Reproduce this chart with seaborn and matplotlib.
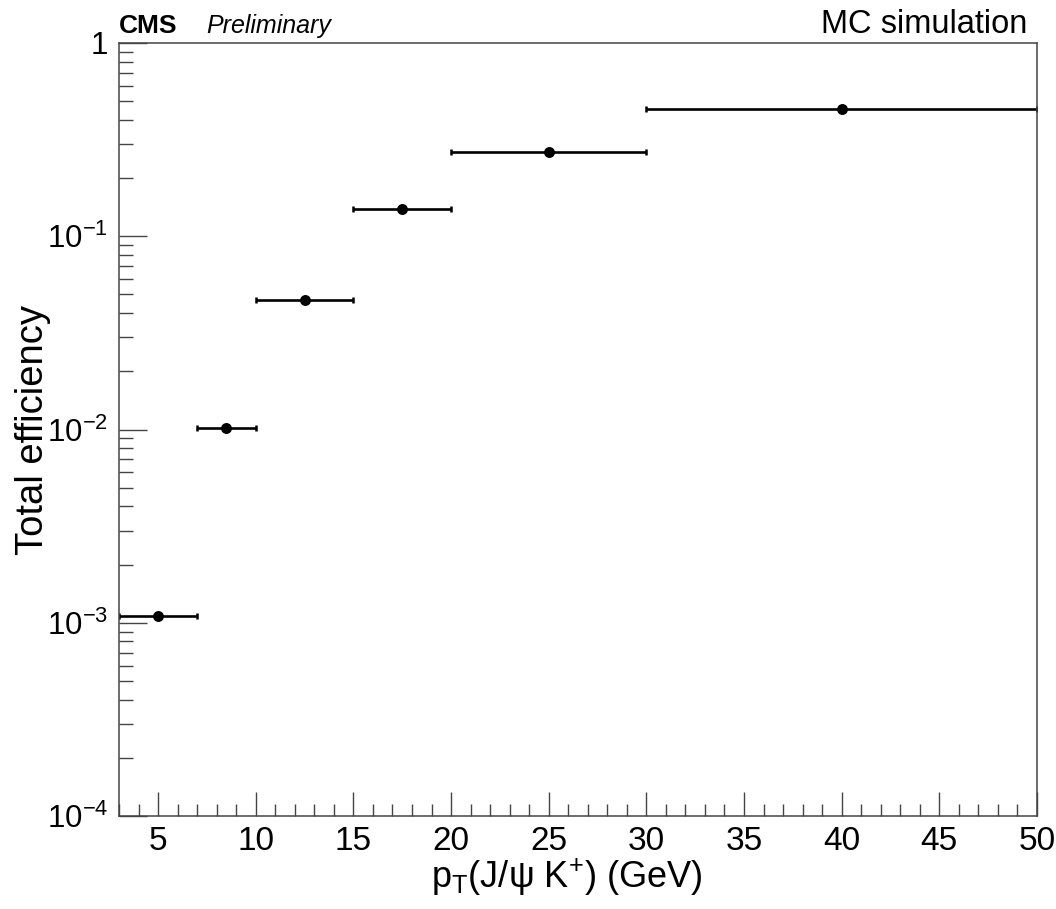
import matplotlib
matplotlib.use("Agg")
import matplotlib.pyplot as plt
import matplotlib.ticker as mticker
import numpy as np
import pandas as pd
import seaborn as sns

# ---- data ----
bin_low = [3, 7, 10, 15, 20, 30]
bin_high = [7, 10, 15, 20, 30, 50]
pt_center = [5, 8.5, 12.5, 17.5, 25, 40]
efficiency = [1.09e-3, 1.024e-2, 4.67e-2, 0.138, 0.272, 0.454]

ytick_vals = [1e-4, 1e-3, 1e-2, 1e-1, 1]
ytick_labels = ["$10^{-4}$", "$10^{-3}$", "$10^{-2}$", "$10^{-1}$", "1"]
xtick_vals = [5, 10, 15, 20, 25, 30, 35, 40, 45, 50]
xtick_labels = [str(v) for v in xtick_vals]

df = pd.DataFrame({"pt": pt_center, "eff": efficiency,
                   "lo": bin_low, "hi": bin_high})

sns.set_theme(style="ticks")
plt.rcParams["font.family"] = ["Liberation Sans", "DejaVu Sans"]
plt.rcParams["mathtext.fontset"] = "custom"
plt.rcParams["mathtext.rm"] = "Liberation Sans"
plt.rcParams["mathtext.it"] = "Liberation Sans:italic"
plt.rcParams["mathtext.bf"] = "Liberation Sans:bold"
plt.rcParams["text.color"] = "black"
plt.rcParams["axes.labelcolor"] = "black"
plt.rcParams["xtick.labelcolor"] = "black"
plt.rcParams["ytick.labelcolor"] = "black"

fig = plt.figure(figsize=(10.56, 9.09), dpi=100)
ax = fig.add_axes([0.1127, 0.1023, 0.9820 - 0.1127, 0.9527 - 0.1023])

xerr = [df["pt"] - df["lo"], df["hi"] - df["pt"]]
ax.errorbar(df["pt"], df["eff"], xerr=xerr, fmt="none", ecolor="black",
            elinewidth=1.9, capsize=2.2, capthick=1.8, zorder=2)
sns.scatterplot(data=df, x="pt", y="eff", ax=ax, color="black", s=62,
                edgecolor="black", linewidth=0, zorder=3, legend=False)

ax.set_yscale("log")
ax.set_xlim(3, 50)
ax.set_ylim(1e-4, 1)

ax.set_xticks(xtick_vals)
ax.set_xticklabels(xtick_labels)
ax.xaxis.set_minor_locator(mticker.MultipleLocator(1))
ax.set_yticks(ytick_vals)
ax.set_yticklabels(ytick_labels)
ax.yaxis.set_minor_locator(mticker.LogLocator(base=10, subs=np.arange(2, 10)))
ax.yaxis.set_minor_formatter(mticker.NullFormatter())

spine_c = "#444444"
for s in ax.spines.values():
    s.set_visible(True)
    s.set_color(spine_c)
    s.set_linewidth(1.1)

ax.tick_params(axis="both", which="both", direction="in", colors=spine_c,
               labelcolor="black", width=1.0, top=False, right=False)
ax.tick_params(axis="x", which="major", length=17, pad=7, labelsize=24)
ax.tick_params(axis="x", which="minor", length=9)
ax.tick_params(axis="y", which="major", length=20, pad=8, labelsize=22.5)
ax.tick_params(axis="y", which="minor", length=10)

ax.set_xlabel("p$_{\\mathrm{T}}$(J/ψ K$^{+}$) (GeV)", fontsize=26)
ax.xaxis.set_label_coords(0.488, -0.053)
ax.set_ylabel("Total efficiency", fontsize=27.5)
ax.yaxis.set_label_coords(-0.074, 0.5)

ax.text(0.0, 1.013, "CMS", transform=ax.transAxes, fontsize=19,
        fontweight="bold", ha="left", va="baseline")
ax.text(0.095, 1.013, "Preliminary", transform=ax.transAxes, fontsize=18,
        fontstyle="italic", ha="left", va="baseline")
ax.text(0.990, 1.013, "MC simulation", transform=ax.transAxes, fontsize=23.5,
        ha="right", va="baseline")

fig.savefig("out.png", dpi=100)
